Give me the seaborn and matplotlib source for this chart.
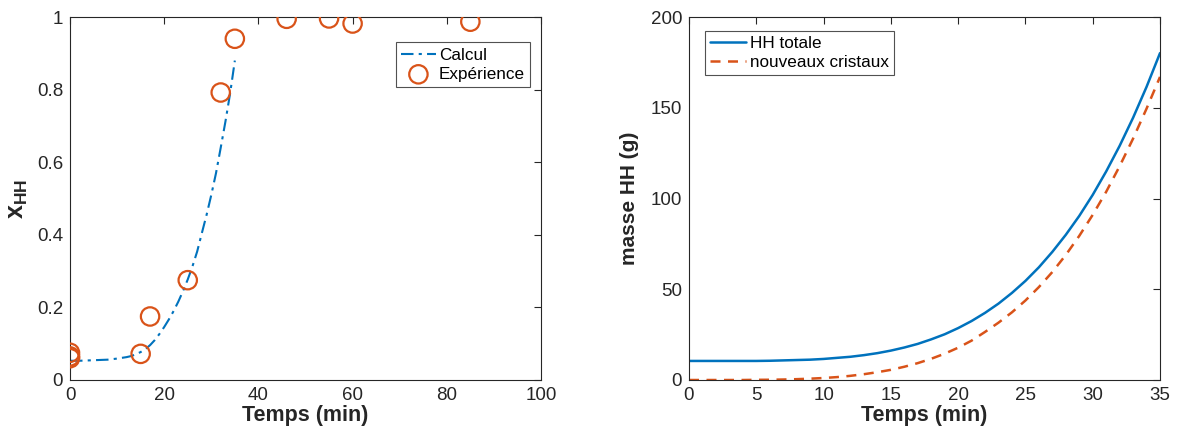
import matplotlib
matplotlib.use("Agg")
import matplotlib.pyplot as plt
import matplotlib.ticker as mticker
import seaborn as sns

# ---- data ----
t_calc = [0, 2, 4, 6, 8, 10, 12, 13, 14, 15, 16, 17, 18, 19, 20, 21, 22, 23, 24,
          25, 26, 27, 28, 29, 30, 31, 32, 33, 34, 35]
x_calc = [0.053, 0.053, 0.054, 0.055, 0.056, 0.059, 0.063, 0.066, 0.071, 0.077,
          0.085, 0.096, 0.110, 0.127, 0.146, 0.167, 0.190, 0.216, 0.245, 0.277,
          0.313, 0.354, 0.405, 0.455, 0.510, 0.570, 0.640, 0.712, 0.790, 0.880]
t_exp = [0, 0, 0, 15, 17, 25, 32, 35, 46, 55, 60, 85]
x_exp = [0.075, 0.065, 0.06, 0.072, 0.175, 0.275, 0.792, 0.94, 0.995, 0.996, 0.982, 0.987]

t_mass = list(range(0, 36))
m_total = [10.5, 10.5, 10.5, 10.5, 10.5, 10.5, 10.6, 10.8, 11.0, 11.2, 11.6, 12.2,
           12.8, 13.7, 14.8, 16.2, 17.9, 19.9, 22.4, 25.2, 28.6, 32.5, 37.0, 42.1,
           48.0, 54.6, 62.1, 70.6, 80.0, 90.4, 102.0, 114.9, 129.0, 144.5, 161.5,
           180.1]
m_new = [0.0, 0.0, 0.0, 0.0, 0.0, 0.1, 0.14, 0.27, 0.46, 0.73, 1.1, 1.6, 2.3, 3.2,
         4.3, 5.6, 7.3, 9.3, 11.7, 14.5, 17.8, 21.7, 26.5, 31.6, 37.3, 43.8, 51.2,
         59.5, 68.9, 79.4, 91.0, 103.7, 117.8, 133.0, 149.5, 167.0]

BLUE = "#0072BD"
ORANGE = "#D95319"
AXC = "#262626"

sns.set_theme(style="white")
plt.rcParams["font.family"] = ["Liberation Sans", "DejaVu Sans"]
plt.rcParams["mathtext.fontset"] = "custom"
plt.rcParams["mathtext.rm"] = "Liberation Sans"
plt.rcParams["mathtext.bf"] = "Liberation Sans:bold"
plt.rcParams["mathtext.it"] = "Liberation Sans:italic"

fig = plt.figure(figsize=(11.78, 4.38), dpi=100)
W, H = 1178, 438
ax1 = fig.add_axes([70 / W, (H - 380) / H, 471 / W, 363 / H])
ax2 = fig.add_axes([689 / W, (H - 380) / H, 471 / W, 363 / H])


def style(ax):
    for s in ax.spines.values():
        s.set_visible(True)
        s.set_color(AXC)
        s.set_linewidth(0.8)
    ax.tick_params(direction="in", length=5, width=0.8, colors=AXC,
                   labelsize=13.5, top=True, right=True, pad=5)


# ---- left ----
sns.lineplot(x=t_calc, y=x_calc, ax=ax1, color=BLUE, linewidth=1.5,
             linestyle=(0, (6, 2.5, 1.5, 2.5)), label="Calcul")
sns.scatterplot(x=t_exp, y=x_exp, ax=ax1, marker="o", s=175,
                facecolors="none", edgecolors=ORANGE, linewidths=1.6,
                label="Expérience", zorder=3)
ax1.set_xlim(0, 100)
ax1.set_ylim(0, 1)
ax1.set_xticks([0, 20, 40, 60, 80, 100])
ax1.set_yticks([0, 0.2, 0.4, 0.6, 0.8, 1])
ax1.yaxis.set_major_formatter(mticker.FuncFormatter(lambda v, p: f"{v:g}"))
ax1.set_xlabel("Temps (min)", fontsize=15.5, fontweight="bold", color=AXC, labelpad=1)
ax1.set_ylabel(r"$\mathbf{x_{HH}}$", fontsize=18, color=AXC, labelpad=5)
style(ax1)
leg1 = ax1.legend(loc="upper right", bbox_to_anchor=(0.977, 0.93), fontsize=12.3,
                  frameon=True, fancybox=False, edgecolor=AXC, handlelength=2.0,
                  handletextpad=0.2, borderpad=0.3, labelspacing=0.25,
                  borderaxespad=0)
leg1.get_frame().set_linewidth(0.8)
for tx in leg1.get_texts():
    tx.set_color("black")

# ---- right ----
sns.lineplot(x=t_mass, y=m_total, ax=ax2, color=BLUE, linewidth=1.8,
             label="HH totale")
sns.lineplot(x=t_mass, y=m_new, ax=ax2, color=ORANGE, linewidth=1.8,
             linestyle=(0, (4, 3)), label="nouveaux cristaux")
ax2.set_xlim(0, 35)
ax2.set_ylim(0, 200)
ax2.set_xticks(range(0, 36, 5))
ax2.set_yticks([0, 50, 100, 150, 200])
ax2.set_xlabel("Temps (min)", fontsize=15.5, fontweight="bold", color=AXC, labelpad=1)
ax2.set_ylabel("masse HH (g)", fontsize=15, fontweight="bold", color=AXC, labelpad=8)
style(ax2)
leg2 = ax2.legend(loc="upper left", bbox_to_anchor=(0.033, 0.962), fontsize=12.3,
                  frameon=True, fancybox=False, edgecolor=AXC, handlelength=2.1,
                  handletextpad=0.25, borderpad=0.3, labelspacing=0.25,
                  borderaxespad=0)
leg2.get_frame().set_linewidth(0.8)
for tx in leg2.get_texts():
    tx.set_color("black")

fig.savefig("out.png", dpi=100, facecolor="white")
